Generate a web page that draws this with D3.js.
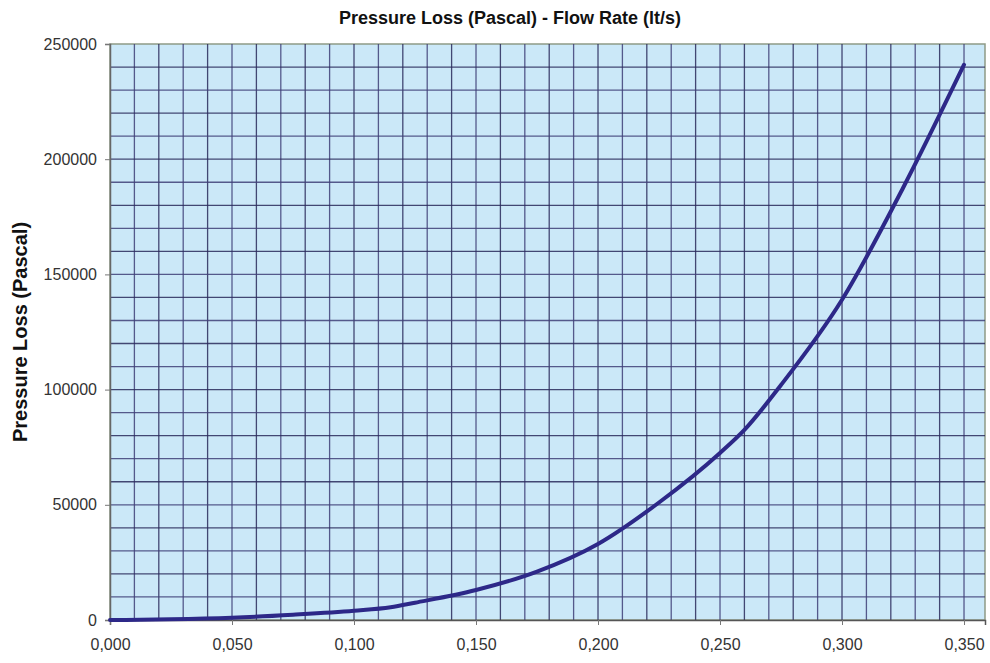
<!DOCTYPE html>
<html>
<head>
<meta charset="utf-8">
<script src="https://cdn.jsdelivr.net/npm/d3@7"></script>
<style>
  body { margin: 0; background: #fff; }
  text { font-family: "Liberation Sans", Arial, sans-serif; }
</style>
</head>
<body>
<div id="chart"></div>
<script>
// flow rate (lt/s) and pressure loss (Pascal)
const flowRate = [0, 0.025, 0.05, 0.075, 0.1, 0.115, 0.125, 0.15, 0.175, 0.2, 0.225, 0.25, 0.26, 0.275, 0.3, 0.325, 0.35]
const pressure = [0, 300, 1000, 2300, 4000, 5500, 7500, 13000, 21000, 33000, 51000, 72500, 82500, 102000, 139000, 187500, 241000]
const xTicks = [0, 0.05, 0.1, 0.15, 0.2, 0.25, 0.3, 0.35]
const yTicks = [0, 50000, 100000, 150000, 200000, 250000]

const width = 990
const height = 663
const margin = {top: 44, right: 5, bottom: 43, left: 110}
const innerW = width - margin.left - margin.right
const innerH = height - margin.top - margin.bottom

const svg = d3.select('#chart').append('svg')
    .attr('width', width)
    .attr('height', height)

const x = d3.scaleLinear().domain([0, 0.3586]).range([0, innerW])
const y = d3.scaleLinear().domain([0, 250000]).range([innerH, 0])

const g = svg.append('g')
    .attr('transform', `translate(${margin.left},${margin.top})`)

// plot background
g.append('rect')
    .attr('width', innerW)
    .attr('height', innerH)
    .attr('fill', '#cbe8f8')
    .attr('stroke', '#8f9a86')
    .attr('stroke-width', 1.5)

// grid
const vLines = d3.range(1, 36).map(i => i / 100)
const hLines = d3.range(1, 25).map(i => i * 10000)

g.append('g').selectAll('line')
    .data(vLines)
    .join('line')
    .attr('x1', d => x(d)).attr('x2', d => x(d))
    .attr('y1', 0).attr('y2', innerH)
    .attr('stroke', (d, i) => i % 2 ? '#2a2a5c' : '#3f3f78')
    .attr('stroke-opacity', 0.85)
    .attr('stroke-width', 1.3)

g.append('g').selectAll('line')
    .data(hLines)
    .join('line')
    .attr('x1', 0).attr('x2', innerW)
    .attr('y1', d => y(d)).attr('y2', d => y(d))
    .attr('stroke', (d, i) => i % 2 ? '#2a2a5c' : '#3f3f78')
    .attr('stroke-opacity', 0.85)
    .attr('stroke-width', 1.3)

// axes
const fmtX = d => d3.format('.3f')(d).replace('.', ',')

const xAxis = g.append('g')
    .attr('transform', `translate(0,${innerH})`)
    .call(d3.axisBottom(x).tickValues(xTicks).tickFormat(fmtX).tickSize(5).tickPadding(14))
xAxis.select('.domain').attr('stroke', '#555').attr('stroke-width', 1.5)
xAxis.selectAll('.tick line').attr('stroke', '#777')
xAxis.selectAll('text').attr('font-size', 16).attr('fill', '#333')

const yAxis = g.append('g')
    .call(d3.axisLeft(y).tickValues(yTicks).tickFormat(d3.format('d')).tickSize(5).tickPadding(8))
yAxis.select('.domain').attr('stroke', '#666').attr('stroke-width', 1.5)
yAxis.selectAll('.tick line').attr('stroke', '#777')
yAxis.selectAll('text').attr('font-size', 16).attr('fill', '#333')

// curve
const line = d3.line()
    .x((d, i) => x(flowRate[i]))
    .y(d => y(d))
    .curve(d3.curveMonotoneX)

g.append('path')
    .datum(pressure)
    .attr('d', line)
    .attr('fill', 'none')
    .attr('stroke', '#2d2888')
    .attr('stroke-width', 4)
    .attr('stroke-linecap', 'round')

// title + axis label
svg.append('text')
    .attr('x', 510)
    .attr('y', 24)
    .attr('text-anchor', 'middle')
    .attr('font-size', 18)
    .attr('font-weight', 'bold')
    .attr('fill', '#111')
    .text('Pressure Loss (Pascal) - Flow Rate (lt/s)')

svg.append('text')
    .attr('transform', `translate(27,${margin.top + innerH / 2}) rotate(-90)`)
    .attr('text-anchor', 'middle')
    .attr('font-size', 20)
    .attr('font-weight', 'bold')
    .attr('fill', '#111')
    .text('Pressure Loss (Pascal)')
</script>
</body>
</html>
